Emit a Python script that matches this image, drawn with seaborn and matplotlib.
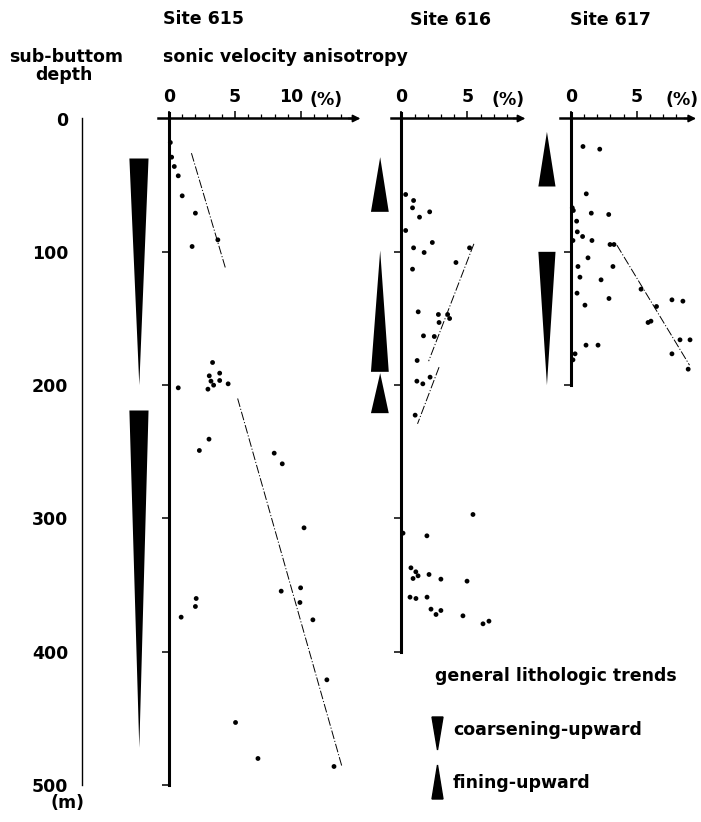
import numpy as np
import pandas as pd
import matplotlib
matplotlib.use("Agg")
import matplotlib.pyplot as plt
import seaborn as sns
from matplotlib.patches import Polygon
from matplotlib.ticker import FixedLocator
from matplotlib.transforms import ScaledTranslation

# ---------------- data ----------------
x615 = [0.1, 0.2, 0.4, 0.7, 1.0, 2.0, 3.7, 1.75,
        3.3, 3.05, 3.84, 3.18, 3.38, 3.84, 4.48, 2.95, 0.7,
        3.03, 2.3, 7.97, 8.58, 10.23, 9.97, 8.5, 9.92, 10.9, 2.06, 2.0, 0.92,
        11.96, 5.04, 6.74, 12.5]
d615 = [18, 29, 36, 43, 58, 71, 91, 96,
        183, 193, 191, 197, 200, 196.5, 199, 203, 202,
        240.5, 249, 251, 259, 307, 352, 354.5, 363, 376, 360, 366, 374,
        421, 453, 480, 486]

x616 = [0.33, 0.93, 0.85, 1.38, 2.15, 0.33, 0.93, 2.35, 1.73, 5.17, 4.14, 0.85,
        1.28, 2.81, 3.51, 3.66, 2.86, 1.68, 2.5, 1.2, 1.18, 1.63, 2.18, 1.05,
        5.43, 0.13, 1.94, 0.73, 1.1, 0.89, 1.27, 2.1, 3.0, 4.98, 0.66, 1.11,
        1.95, 2.25, 2.63, 3.0, 4.67, 6.19, 6.64]
d616 = [57, 61.5, 67, 74, 70, 84, 97, 93, 100.5, 97, 108, 113,
        145, 147, 147, 150, 153, 163, 163.5, 181.5, 197, 199, 194, 222.5,
        297, 311, 313, 337, 340, 345, 343, 342, 345.5, 347, 359, 360,
        359, 368, 372, 369, 373, 379, 377]

x617 = [0.93, 2.2, 1.18, 0.12, 0.2, 1.56, 2.88, 0.45, 0.5, 0.9,
        0.17, 1.61, 2.98, 3.28, 1.31, 0.55, 3.2, 0.7, 2.3, 0.48, 1.08, 2.9,
        5.33, 6.08, 6.5, 5.86, 7.67, 8.5, 8.28, 9.04, 7.67, 1.16, 2.07, 0.17,
        0.33, 8.9]
d617 = [21, 23, 56.5, 67, 69, 71, 72, 77, 85, 88.5,
        91.5, 91.5, 94.5, 94.5, 104.5, 111, 111, 119, 121, 131, 140, 135,
        128, 152, 141, 153, 136, 137, 166, 166, 176.5, 170, 170, 181,
        176.5, 188]

# trend lines (two end points per segment)
trend615_x = [[1.7, 4.3], [5.2, 13.1]]
trend615_d = [[26, 113], [210, 486]]
trend616_x = [[5.5, 2.07], [2.86, 1.23]]
trend616_d = [[94, 182], [186.5, 229]]
trend617_x = [[3.5, 9.0]]
trend617_d = [[95, 185]]

# general lithologic trends: (top depth, bottom depth, kind)
litho615 = [(30, 200, "coarsening"), (219, 472, "coarsening")]
litho616 = [(29, 70, "fining"), (99, 190, "fining"), (191, 221, "fining")]
litho617 = [(10, 51, "fining"), (100, 200, "coarsening")]

depth_ticks = [0, 100, 200, 300, 400, 500]
site_names = ["Site 615", "Site 616", "Site 617"]

# ---------------- style ----------------
sns.set_style("white")
plt.rcParams["font.family"] = ["DejaVu Sans"]
plt.rcParams["font.weight"] = "bold"
plt.rcParams["text.color"] = "black"
FS = 12.5

W, H = 701, 822
fig = plt.figure(figsize=(W / 100, H / 100), dpi=100)

Y0 = 118.5      # pixel row of depth 0
K = 1.3333      # pixels per metre
XS = 13.2       # pixels per percent
DTOP, DBOT = -12, 515


def add_site_ax(x0px, xmin, xmax):
    left = x0px + xmin * XS
    width = (xmax - xmin) * XS
    top = Y0 + DTOP * K
    height = (DBOT - DTOP) * K
    ax = fig.add_axes([left / W, 1 - (top + height) / H, width / W, height / H])
    ax.set_xlim(xmin, xmax)
    ax.set_ylim(DBOT, DTOP)
    ax.patch.set_visible(False)
    return ax


def style_site(ax, dmax, xend, majors, minors, yt):
    for s in ["bottom", "right"]:
        ax.spines[s].set_visible(False)
    ax.spines["left"].set_position(("data", 0))
    ax.spines["top"].set_position(("data", 0))
    ax.spines["left"].set_bounds(-4, dmax)
    ax.spines["top"].set_bounds(-0.8, xend - 0.6)
    ax.spines["left"].set_linewidth(2.2)
    ax.spines["top"].set_linewidth(1.8)
    ax.spines["left"].set_color("black")
    ax.spines["top"].set_color("black")
    ax.xaxis.set_ticks_position("top")
    ax.set_xticks(majors)
    ax.set_xticklabels([str(m) for m in majors])
    ax.xaxis.set_minor_locator(FixedLocator(minors))
    ax.tick_params(axis="x", which="major", direction="out", length=5,
                   width=1.1, colors="black", labelsize=FS, pad=4,
                   top=True, bottom=False, labeltop=True, labelbottom=False)
    ax.tick_params(axis="x", which="minor", direction="out", length=3,
                   width=0.9, colors="black", top=True, bottom=False)
    ax.set_yticks(yt)
    ax.tick_params(axis="y", which="major", direction="out", length=5,
                   width=1.1, colors="black", left=True, right=False,
                   labelleft=False)
    ax.annotate("", xy=(xend, 0), xytext=(xend - 0.9, 0),
                arrowprops=dict(arrowstyle="-|>", color="black", lw=1.2,
                                mutation_scale=11, shrinkA=0, shrinkB=0),
                annotation_clip=False)
    ax.set_xlabel("")
    ax.set_ylabel("")
    ax.grid(False)


def draw_trends(ax, tx, td):
    for xs, ds in zip(tx, td):
        sns.lineplot(x=xs, y=ds, ax=ax, color="black", lw=0.7,
                     linestyle=(0, (9, 2, 1.2, 2)), sort=False,
                     estimator=None, legend=False)


def draw_litho(ax, litho, xl, xr, xc):
    for top, bot, kind in litho:
        if kind == "coarsening":
            xs, ys = [xl, xr, xc], [top, top, bot]
        else:
            xs, ys = [xc, xl, xr], [top, bot, bot]
        ax.fill(xs, ys, color="black", lw=0, clip_on=False)


ax1 = add_site_ax(169, -4.2, 14.8)
ax2 = add_site_ax(401.3, -2.9, 9.8)
ax3 = add_site_ax(570.7, -2.9, 9.9)

sites = [
    (ax1, x615, d615, trend615_x, trend615_d, litho615, 500, 14.5, [0, 5, 10],
     [1, 2, 3, 4, 6, 7, 8, 9, 11, 12, 13], [100, 200, 300, 400, 500],
     (-3.0, -1.55, -2.25)),
    (ax2, x616, d616, trend616_x, trend616_d, litho616, 400, 9.4, [0, 5],
     [1, 2, 3, 4, 6, 7, 8], [100, 200, 300, 400], (-2.3, -0.95, -1.6)),
    (ax3, x617, d617, trend617_x, trend617_d, litho617, 200, 9.5, [0, 5],
     [1, 2, 3, 4, 6, 7, 8], [100, 200], (-2.45, -1.15, -1.8)),
]

for ax, xs, ds, tx, td, litho, dmax, xend, majors, minors, yt, col in sites:
    df = pd.DataFrame({"aniso": xs, "depth": ds})
    sns.scatterplot(data=df, x="aniso", y="depth", ax=ax, color="black",
                    s=12, edgecolor="none", legend=False, clip_on=False)
    draw_trends(ax, tx, td)
    draw_litho(ax, litho, *col)
    style_site(ax, dmax, xend, majors, minors, yt)
    ax.set_xlim(ax.get_xlim())
    ax.set_ylim(DBOT, DTOP)

# shift the "10" label a little left as in the original
for lbl in ax1.get_xticklabels():
    if lbl.get_text() == "10":
        lbl.set_transform(lbl.get_transform() +
                          ScaledTranslation(-10 / 100, 0, fig.dpi_scale_trans))

# "(%)" labels
for ax, xp in [(ax1, 11.9), (ax2, 8.1), (ax3, 8.4)]:
    ax.text(xp, -14, "(%)", ha="center", va="center", fontsize=FS,
            fontweight="bold", clip_on=False, color="black")

# depth axis on the far left
axd = add_site_ax(82, -0.3, 0.3)
for s in ["bottom", "right", "top"]:
    axd.spines[s].set_visible(False)
axd.spines["left"].set_position(("data", 0))
axd.spines["left"].set_bounds(0, 500)
axd.spines["left"].set_linewidth(1.0)
axd.spines["left"].set_color("black")
axd.set_xticks([])
axd.set_yticks(depth_ticks)
axd.set_yticklabels([str(t) for t in depth_ticks])
axd.tick_params(axis="y", direction="out", length=7, width=1.0, pad=3,
                labelsize=FS, colors="black")


def px(x, y):
    return x / W, 1 - y / H


# titles and labels
fig.text(*px(163, 19), site_names[0], fontsize=FS, fontweight="bold", va="center")
fig.text(*px(410, 20), site_names[1], fontsize=FS, fontweight="bold", va="center")
fig.text(*px(570, 20), site_names[2], fontsize=FS, fontweight="bold", va="center")
fig.text(*px(66, 57), "sub-buttom", fontsize=FS, fontweight="bold",
         ha="center", va="center")
fig.text(*px(64, 75), "depth", fontsize=FS, fontweight="bold",
         ha="center", va="center")
fig.text(*px(163, 57), "sonic velocity anisotropy", fontsize=FS,
         fontweight="bold", va="center")
fig.text(*px(67, 803), "(m)", fontsize=FS, fontweight="bold",
         ha="center", va="center")

# legend
fig.text(*px(435, 676), "general lithologic trends", fontsize=FS,
         fontweight="bold", va="center")
fig.text(*px(453, 730), "coarsening-upward", fontsize=FS,
         fontweight="bold", va="center")
fig.text(*px(453, 783), "fining-upward", fontsize=FS,
         fontweight="bold", va="center")
fig.patches.append(Polygon([px(432, 717), px(443, 717), px(437.5, 750)],
                           closed=True, color="black", transform=fig.transFigure))
fig.patches.append(Polygon([px(437.5, 765), px(432, 799), px(443, 799)],
                           closed=True, color="black", transform=fig.transFigure))

fig.savefig("out.png", dpi=100)
